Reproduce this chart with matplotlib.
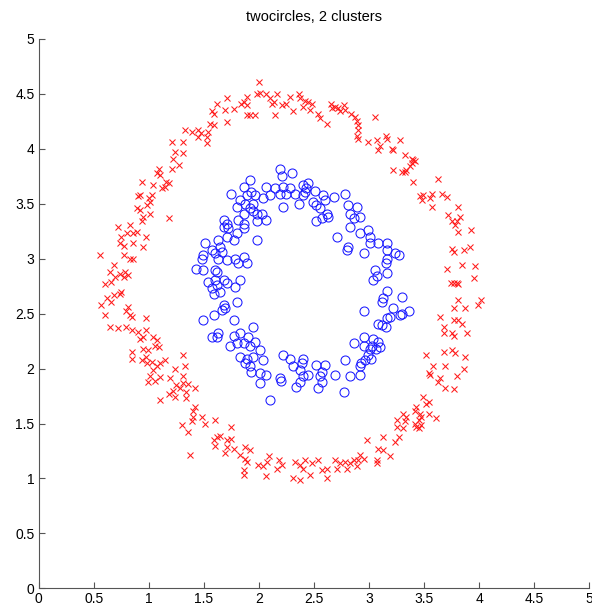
import numpy as np
import matplotlib
matplotlib.use("Agg")
import matplotlib.pyplot as plt

# outer ring (cluster 1)
red_points = [
    (2.00, 4.61), (1.98, 4.50), (1.89, 4.47), (1.86, 4.43), (1.84, 4.41), (1.89, 4.40),
    (1.71, 4.46), (1.62, 4.41), (1.69, 4.35), (1.77, 4.36), (1.57, 4.34), (1.59, 4.32),
    (1.89, 4.31), (1.96, 4.31), (1.71, 4.24), (1.56, 4.23), (1.59, 4.22), (1.33, 4.17),
    (1.39, 4.15), (1.45, 4.17), (1.47, 4.14), (1.54, 4.15), (1.53, 4.11), (1.45, 4.11),
    (1.53, 4.05), (1.21, 4.06), (1.31, 4.06), (1.24, 3.97), (1.31, 3.96), (1.22, 3.91),
    (1.27, 3.85), (1.21, 3.82), (1.09, 3.82), (1.07, 3.78), (1.10, 3.76), (1.16, 3.70),
    (1.18, 3.69), (1.15, 3.65), (1.12, 3.64), (1.04, 3.67), (0.94, 3.70), (0.92, 3.58),
    (0.90, 3.57), (1.00, 3.55), (1.03, 3.58), (1.01, 3.52), (0.98, 3.49), (0.89, 3.46),
    (0.92, 3.44), (1.01, 3.41), (0.95, 3.38), (0.94, 3.34), (1.18, 3.37), (0.72, 3.29),
    (0.83, 3.31), (0.80, 3.23), (0.75, 3.20), (0.86, 3.23), (0.89, 3.24), (0.97, 3.20),
    (0.74, 3.14), (0.77, 3.12), (0.86, 3.14), (0.95, 3.11),
    (0.56, 3.03), (0.77, 3.03), (0.86, 3.00), (0.83, 3.00), (0.68, 2.94), (0.65, 2.88),
    (0.74, 2.86), (0.78, 2.88), (0.81, 2.85), (0.77, 2.83), (0.69, 2.83), (0.60, 2.77),
    (0.66, 2.79), (0.75, 2.70), (0.74, 2.68), (0.68, 2.67), (0.62, 2.64), (0.66, 2.61),
    (0.57, 2.58), (0.60, 2.49), (0.81, 2.56), (0.79, 2.52), (0.83, 2.49), (0.85, 2.47),
    (0.97, 2.46), (0.65, 2.38), (0.72, 2.37), (0.79, 2.38), (0.85, 2.35), (0.90, 2.33),
    (0.97, 2.35), (0.95, 2.29), (0.92, 2.27), (1.04, 2.29), (1.07, 2.26), (1.09, 2.20),
    (1.06, 2.21), (0.95, 2.18), (0.99, 2.17), (0.85, 2.15), (0.85, 2.09), (0.97, 2.11),
    (0.94, 2.08), (0.98, 2.05), (1.03, 2.06), (1.07, 2.02), (1.10, 2.05), (1.15, 2.08),
    (1.04, 1.99), (1.01, 1.93), (0.99, 1.88), (1.06, 1.89), (1.10, 1.92), (1.24, 2.00),
    (1.31, 2.12), (1.33, 2.02), (1.31, 1.93), (1.19, 1.91), (1.25, 1.85), (1.31, 1.87),
    (1.36, 1.86), (1.28, 1.82), (1.22, 1.80), (1.42, 1.82), (1.34, 1.79), (1.18, 1.77),
    (1.10, 1.71), (1.24, 1.74), (1.34, 1.73), (1.42, 1.65),
    (1.40, 1.61), (1.40, 1.56), (1.48, 1.56), (1.39, 1.52), (1.51, 1.50), (1.60, 1.53),
    (1.30, 1.49), (1.36, 1.42), (1.75, 1.47), (1.65, 1.39), (1.62, 1.38), (1.59, 1.35),
    (1.60, 1.30), (1.71, 1.35), (1.75, 1.36), (1.71, 1.29), (1.77, 1.27), (1.69, 1.23),
    (1.87, 1.29), (1.92, 1.26), (1.83, 1.21), (1.87, 1.18), (1.89, 1.15), (1.99, 1.12),
    (1.86, 1.08), (1.86, 1.03), (1.37, 1.21),
    (2.04, 1.11), (2.06, 1.02), (2.09, 1.20), (2.07, 1.15), (2.18, 1.17), (2.21, 1.12),
    (2.16, 1.09), (2.33, 1.15), (2.37, 1.12), (2.40, 1.09), (2.42, 1.17), (2.48, 1.14),
    (2.46, 1.03), (2.31, 1.00), (2.37, 0.99), (2.54, 1.17), (2.57, 1.08), (2.62, 1.09),
    (2.62, 1.00), (2.69, 1.17), (2.71, 1.09), (2.74, 1.14), (2.78, 1.15), (2.83, 1.14),
    (2.80, 1.09), (2.89, 1.11), (2.92, 1.21), (2.95, 1.18), (2.90, 1.17), (2.86, 1.17),
    (2.98, 1.35), (3.08, 1.27), (3.13, 1.26), (3.13, 1.38), (3.07, 1.14), (3.07, 1.17),
    (3.19, 1.20), (3.24, 1.33), (3.27, 1.38), (3.25, 1.47), (3.31, 1.46), (3.33, 1.52),
    (3.25, 1.53), (3.31, 1.59), (3.34, 1.56), (3.42, 1.50), (3.45, 1.53), (3.43, 1.47),
    (3.46, 1.59), (3.43, 1.65), (3.49, 1.74), (3.52, 1.68), (3.45, 1.46),
    (3.63, 1.88), (3.69, 1.82), (3.77, 1.81), (3.54, 1.70), (3.42, 1.61), (3.54, 1.59),
    (3.61, 1.55), (3.47, 1.56), (3.47, 1.49),
    (3.81, 3.24), (3.93, 3.26), (3.75, 3.09), (3.77, 3.06), (3.86, 3.08), (3.92, 3.11),
    (3.71, 2.91), (3.84, 2.94), (3.96, 2.93), (3.95, 2.82), (3.74, 2.78), (3.77, 2.78),
    (3.80, 2.78), (3.81, 2.77), (3.81, 2.62), (3.77, 2.55), (3.87, 2.55), (3.99, 2.58),
    (4.02, 2.62), (3.64, 2.47), (3.68, 2.38), (3.77, 2.44), (3.81, 2.44), (3.84, 2.41),
    (3.68, 2.32), (3.75, 2.32), (3.77, 2.30), (3.89, 2.32), (3.52, 2.12), (3.68, 2.15),
    (3.75, 2.17), (3.78, 2.14), (3.87, 2.11), (3.58, 2.02), (3.69, 2.02), (3.86, 2.00),
    (3.55, 1.94), (3.64, 1.91), (3.80, 1.93), (3.54, 1.96),
    (3.28, 4.08), (3.33, 3.94), (3.40, 3.90), (3.39, 3.91), (3.37, 3.84), (3.30, 3.79),
    (3.33, 3.79), (3.40, 3.70), (3.63, 3.73), (3.49, 3.58), (3.48, 3.53), (3.57, 3.59),
    (3.55, 3.55), (3.57, 3.47), (3.66, 3.59), (3.71, 3.56), (3.81, 3.47), (3.72, 3.40),
    (3.83, 3.38), (3.75, 3.34), (3.78, 3.31), (3.80, 3.34),
    (2.01, 4.51), (2.06, 4.50), (2.10, 4.46), (2.16, 4.50), (2.14, 4.43), (2.12, 4.41),
    (2.21, 4.40), (2.25, 4.41), (2.28, 4.47), (2.36, 4.50), (2.37, 4.46), (2.42, 4.44),
    (2.40, 4.38), (2.45, 4.43), (2.48, 4.41), (2.46, 4.35), (2.31, 4.34), (1.92, 4.31),
    (2.15, 4.31), (2.54, 4.32), (2.55, 4.28), (2.62, 4.23), (2.65, 4.41), (2.69, 4.38),
    (2.66, 4.37), (2.72, 4.37), (2.77, 4.40), (2.78, 4.35), (2.74, 4.34), (2.84, 4.32),
    (2.87, 4.29), (2.89, 4.25), (2.90, 4.22), (2.90, 4.17), (2.89, 4.12), (2.90, 4.09),
    (3.05, 4.29), (2.99, 4.06), (3.07, 4.08), (3.10, 4.03), (3.08, 3.99), (3.15, 4.12),
    (3.16, 4.09), (3.21, 4.00), (3.22, 3.99), (3.42, 3.89), (3.39, 3.87), (3.34, 3.81),
    (3.22, 3.81), (3.46, 3.57),
]

# inner ring (cluster 2)
blue_points = [
    (2.19, 3.82), (2.30, 3.78), (2.21, 3.75), (1.92, 3.72), (2.06, 3.65), (2.15, 3.64),
    (2.22, 3.65), (2.28, 3.64), (2.33, 3.59), (2.40, 3.67), (2.45, 3.69), (2.43, 3.64),
    (2.51, 3.62), (2.58, 3.58), (2.68, 3.56), (2.78, 3.59), (1.93, 3.61), (1.96, 3.58),
    (2.04, 3.55), (2.10, 3.58), (2.19, 3.59), (2.25, 3.59), (2.40, 3.58), (2.42, 3.61),
    (2.36, 3.50), (2.22, 3.47), (2.49, 3.52), (2.52, 3.49), (2.60, 3.53), (2.55, 3.46),
    (2.62, 3.41), (2.63, 3.38), (2.57, 3.37), (2.52, 3.34), (1.92, 3.46), (1.95, 3.43),
    (2.03, 3.41), (2.06, 3.35), (2.81, 3.49), (2.89, 3.47), (2.83, 3.41), (2.86, 3.37),
    (2.83, 3.29), (2.92, 3.38), (2.92, 3.23), (2.99, 3.26), (3.01, 3.20), (3.08, 3.14),
    (3.16, 3.14), (3.01, 3.14), (2.71, 3.20), (2.81, 3.11), (3.16, 3.08),
    (1.86, 3.65), (1.89, 3.58), (1.75, 3.59), (1.83, 3.53), (1.87, 3.50), (1.95, 3.50),
    (1.80, 3.47), (1.86, 3.41), (1.98, 3.41), (1.81, 3.35), (1.86, 3.32), (1.98, 3.34),
    (1.68, 3.35), (1.71, 3.32), (1.72, 3.28), (1.68, 3.29), (1.86, 3.28), (1.80, 3.23),
    (1.77, 3.17), (1.71, 3.20), (1.63, 3.17), (1.51, 3.14), (1.65, 3.11), (1.57, 3.08),
    (1.98, 3.17),
    (1.49, 3.03), (1.48, 3.00), (1.60, 3.05), (1.66, 3.06), (1.63, 3.00), (1.71, 2.99),
    (1.78, 3.00), (1.86, 3.02), (1.89, 2.96), (1.81, 2.96), (1.43, 2.91), (1.49, 2.90),
    (1.60, 2.90), (1.62, 2.88), (1.54, 2.79), (1.60, 2.81), (1.68, 2.81), (1.62, 2.76),
    (1.57, 2.73), (1.59, 2.68), (1.65, 2.70), (1.71, 2.78), (1.83, 2.81), (1.78, 2.74),
    (1.80, 2.61), (1.68, 2.58), (1.66, 2.53), (1.69, 2.55), (1.59, 2.49), (1.49, 2.44),
    (1.77, 2.44), (1.95, 2.38), (1.62, 2.29), (1.57, 2.29), (1.63, 2.32), (1.77, 2.30),
    (1.83, 2.32), (1.90, 2.29), (1.96, 2.24), (1.74, 2.21), (1.80, 2.23), (1.86, 2.23),
    (1.83, 2.11), (1.89, 2.09), (1.95, 2.11), (2.01, 2.17), (1.87, 2.05), (1.92, 2.02),
    (1.93, 1.97), (2.01, 1.96), (2.01, 1.87),
    (3.24, 3.05), (3.27, 3.03), (3.16, 3.00), (2.95, 3.05), (2.80, 3.08), (3.15, 2.96),
    (3.05, 2.90), (3.04, 2.81), (3.16, 2.87), (3.07, 2.84), (3.16, 2.71), (3.30, 2.65),
    (3.13, 2.64), (3.12, 2.61), (3.22, 2.55), (3.36, 2.52), (3.28, 2.49), (3.19, 2.47),
    (3.16, 2.46), (3.08, 2.41), (3.12, 2.40), (3.15, 2.38), (2.95, 2.52), (3.30, 2.50),
    (2.95, 2.29), (2.86, 2.23), (2.95, 2.21), (3.03, 2.21), (3.04, 2.27), (3.08, 2.24),
    (3.10, 2.20), (3.06, 2.18), (3.01, 2.18), (2.99, 2.12), (3.02, 2.09), (2.96, 2.08),
    (2.92, 2.02), (2.93, 2.05), (2.92, 1.94), (2.83, 1.93), (2.78, 2.08), (2.69, 1.94),
    (2.77, 1.79),
    (1.92, 2.21), (2.04, 2.08), (2.06, 1.94), (2.22, 2.12), (2.28, 2.09), (2.40, 2.09),
    (2.31, 2.02), (2.39, 2.05), (2.37, 1.99), (2.40, 1.93), (2.45, 1.94), (2.19, 1.91),
    (2.20, 1.89), (2.37, 1.88), (2.34, 1.83), (2.52, 2.03), (2.60, 2.03), (2.57, 1.97),
    (2.55, 1.93), (2.57, 1.88), (2.54, 1.82), (2.10, 1.71),
]

x_ticks = [0, 0.5, 1, 1.5, 2, 2.5, 3, 3.5, 4, 4.5, 5]
y_ticks = [0, 0.5, 1, 1.5, 2, 2.5, 3, 3.5, 4, 4.5, 5]
title = "twocircles, 2 clusters"

plt.rcParams["font.family"] = ["Liberation Sans", "DejaVu Sans"]

fig = plt.figure(figsize=(5.92, 6.11), dpi=100)
ax = fig.add_axes([0.0654, 0.0371, 0.93, 0.8991])

red = np.array(red_points)
blue = np.array(blue_points)
ax.plot(red[:, 0], red[:, 1], linestyle="none", marker="x", ms=5, mew=0.75,
        color="#ff1a1a")
ax.plot(blue[:, 0], blue[:, 1], linestyle="none", marker="o", ms=6.5, mew=0.75,
        mfc="none", mec="#1a1aff")

ax.set_xlim(0, 5)
ax.set_ylim(0, 5)
ax.set_xticks(x_ticks)
ax.set_yticks(y_ticks)
ax.set_xticklabels([f"{t:g}" for t in x_ticks])
ax.set_yticklabels([f"{t:g}" for t in y_ticks])
ax.set_title(title, fontsize=10.5, pad=13)

for side in ["top", "right"]:
    ax.spines[side].set_visible(False)
for side in ["left", "bottom"]:
    ax.spines[side].set_color("#555555")
    ax.spines[side].set_linewidth(0.8)
ax.tick_params(direction="in", length=4, width=0.8, color="#555555",
               labelsize=10, pad=3)

fig.savefig("out.png", dpi=100)
